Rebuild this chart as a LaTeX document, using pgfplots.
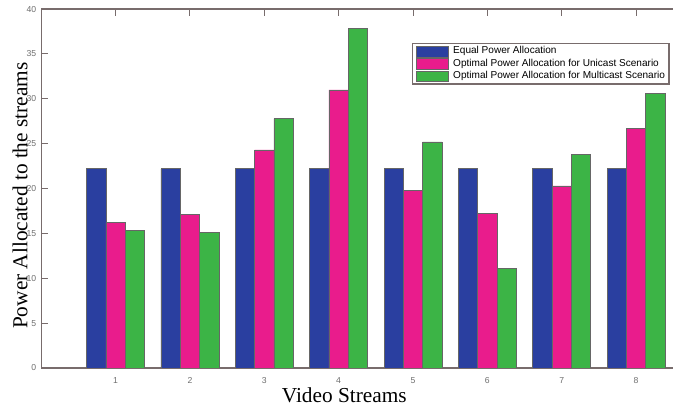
\documentclass[border=0pt]{standalone}
\usepackage{fontspec}
\setmainfont{Liberation Serif}
\newfontfamily\arial{Liberation Sans}
\usepackage{pgfplots}
\pgfplotsset{compat=1.18}
\definecolor{cblue}{RGB}{42,63,160}
\definecolor{cpink}{RGB}{233,28,140}
\definecolor{cgreen}{RGB}{60,180,70}
\definecolor{caxis}{RGB}{120,108,108}
\definecolor{ctick}{RGB}{110,110,110}
\begin{document}
\begin{tikzpicture}
\begin{axis}[
  scale only axis,
  width=318pt, height=178.5pt,
  xmin=0, xmax=8.6, ymin=0, ymax=40,
  ybar, bar width=0.26,
  axis y line*=left,
  xtick={1,2,3,4,5,6,7,8},
  ytick={0,5,10,15,20,25,30,35,40},
  xtick align=inside, ytick align=inside,
  major tick length=3.5pt,
  xtick pos=both, ytick pos=left,
  axis line style={caxis, line width=0.6pt, -},
  every tick/.style={caxis, line width=0.5pt},
  tick label style={font=\arial\fontsize{4.3}{5}\selectfont, text=ctick},
  xticklabel style={yshift=-1pt},
  yticklabel style={xshift=1pt},
  /pgf/number format/assume math mode=true,
  ylabel={Power Allocated to the streams},
  xlabel={Video Streams},
  label style={font=\fontsize{10.6}{12}\selectfont},
  ylabel style={at={(axis description cs:-0.033,0.48)}, anchor=center, rotate=0},
  xlabel style={at={(axis description cs:0.474,0)}, anchor=center, yshift=-13.5pt},
  legend style={at={(axis description cs:1,1)}, anchor=north east, xshift=-5.5pt, yshift=-17pt,
    font=\arial\fontsize{5.0}{6}\selectfont, draw=caxis, line width=0.6pt,
    inner xsep=1.5pt, inner ysep=0.8pt, row sep=0pt,
    nodes={inner sep=0.5pt}},
  legend cell align=left,
  legend image code/.code={\draw[#1] (0pt,-2.6pt) rectangle (16pt,2.6pt); \path (17.8pt,0pt);},
]
\addplot[fill=cblue, draw=black!60, line width=0.3pt, bar shift=-0.26] coordinates {
 (1,22.2) (2,22.2) (3,22.2) (4,22.2) (5,22.2) (6,22.2) (7,22.2) (8,22.2)};
\addplot[fill=cpink, draw=black!60, line width=0.3pt, bar shift=0] coordinates {
 (1,16.2) (2,17.1) (3,24.3) (4,31.0) (5,19.8) (6,17.2) (7,20.3) (8,26.7)};
\addplot[fill=cgreen, draw=black!60, line width=0.3pt, bar shift=0.26] coordinates {
 (1,15.3) (2,15.1) (3,27.8) (4,37.8) (5,25.2) (6,11.1) (7,23.8) (8,30.6)};
\legend{Equal Power Allocation, Optimal Power Allocation for Unicast Scenario, Optimal Power Allocation for Multicast Scenario}
\coordinate (bbl) at (rel axis cs:0,0);
\coordinate (bbr) at (rel axis cs:0.988,1);
\end{axis}
\pgfresetboundingbox
\path[use as bounding box] ([xshift=-20.5pt,yshift=-25pt]bbl) rectangle ([yshift=4.5pt]bbr);
\end{tikzpicture}
\end{document}
